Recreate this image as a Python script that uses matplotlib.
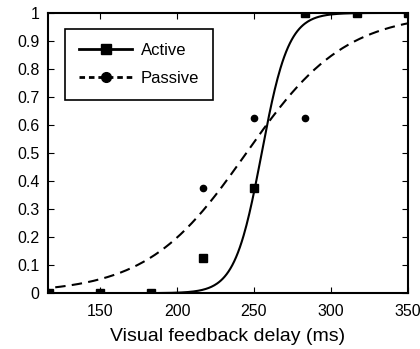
# Active vs Passive: psychometric curves over visual feedback delay
import numpy as np
import matplotlib.pyplot as plt

plt.rcParams['font.family'] = ['Liberation Sans', 'DejaVu Sans']

delays = [116.7, 150, 183.3, 216.7, 250, 283.3, 316.7, 350]
active = [0, 0, 0, 0.125, 0.375, 1, 1, 1]
passive = [0, 0, 0, 0.375, 0.625, 0.625, 1, 1]

# logistic fit parameters (midpoint, slope)
active_fit = (255.0, 0.115)
passive_fit = (245.0, 0.031)

xticks = [150, 200, 250, 300, 350]
yticks = [0, 0.1, 0.2, 0.3, 0.4, 0.5, 0.6, 0.7, 0.8, 0.9, 1]
ytick_labels = ['0', '0.1', '0.2', '0.3', '0.4', '0.5', '0.6', '0.7', '0.8', '0.9', '1']


def logistic(x, mu, k):
    return 1.0 / (1.0 + np.exp(-k * (x - mu)))


fig = plt.figure(figsize=(4.2, 3.49), dpi=100)
ax = fig.add_axes([0.114, 0.160, 0.857, 0.803])

xs = np.linspace(110, 355, 400)
ax.plot(xs, logistic(xs, *active_fit), color='black', lw=1.5)
ax.plot(xs, logistic(xs, *passive_fit), color='black', lw=1.5, ls=(0, (5, 3)))

ax.plot(delays, active, 's', color='black', ms=6)
ax.plot(delays, passive, 'o', color='black', ms=4.5)

# legend handles: line with marker in the middle (MATLAB style)
h1, = ax.plot([], [], '-s', color='black', lw=2, ms=7)
h2, = ax.plot([], [], '--o', color='black', lw=2, ms=7, dashes=(2, 1.4))
leg = ax.legend([h1, h2], ['Active', 'Passive'], loc='upper left',
                bbox_to_anchor=(0.047, 0.943), borderaxespad=0,
                fancybox=False, framealpha=1, edgecolor='black',
                fontsize=12, handlelength=3.2, borderpad=0.85,
                labelspacing=0.75, handletextpad=0.5)
leg.get_frame().set_linewidth(1.2)

ax.set_xlim(116, 350)
ax.set_ylim(0, 1)
ax.set_xticks(xticks)
ax.set_yticks(yticks)
ax.set_yticklabels(ytick_labels)
ax.tick_params(direction='in', top=True, right=True, length=4, labelsize=11.5)
ax.tick_params(axis='x', pad=8)
ax.tick_params(axis='y', pad=6)
for s in ax.spines.values():
    s.set_linewidth(1.5)

ax.set_xlabel('Visual feedback delay (ms)', fontsize=14, labelpad=6)

plt.savefig('out.png', dpi=100)
